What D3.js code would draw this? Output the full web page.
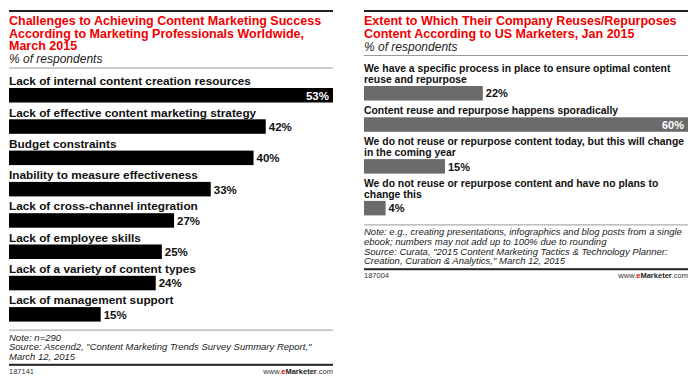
<!DOCTYPE html>
<html>
<head>
<meta charset="utf-8">
<script src="https://cdn.jsdelivr.net/npm/d3@7"></script>
<style>
  html, body { margin: 0; padding: 0; background: #fff; }
  svg { display: block; }
  .title { font-family: "Liberation Sans Narrow", "Arial Narrow", "Liberation Sans", sans-serif; font-weight: bold; font-size: 12.5px; fill: #ee0000; }
  .sub { font-family: "Liberation Sans", Arial, sans-serif; font-style: italic; font-size: 12px; fill: #222; }
  .label { font-family: "Liberation Sans Narrow", "Arial Narrow", "Liberation Sans", sans-serif; font-weight: bold; fill: #111; }
  .val { font-family: "Liberation Sans Narrow", "Arial Narrow", "Liberation Sans", sans-serif; font-weight: bold; }
  .note { font-family: "Liberation Sans", Arial, sans-serif; font-style: italic; font-size: 9.5px; fill: #222; }
  .foot { font-family: "Liberation Sans", Arial, sans-serif; font-size: 7.5px; fill: #333; }
</style>
</head>
<body>
<svg id="chart" width="700" height="383"></svg>
<script>
// left chart data
const leftTitle = [
  "Challenges to Achieving Content Marketing Success",
  "According to Marketing Professionals Worldwide,",
  "March 2015"
];
const leftCategories = [
  ["Lack of internal content creation resources"],
  ["Lack of effective content marketing strategy"],
  ["Budget constraints"],
  ["Inability to measure effectiveness"],
  ["Lack of cross-channel integration"],
  ["Lack of employee skills"],
  ["Lack of a variety of content types"],
  ["Lack of management support"]
];
const leftValues = [53, 42, 40, 33, 27, 25, 24, 15];
const leftNotes = [
  "Note: n=290",
  "Source: Ascend2, \"Content Marketing Trends Survey Summary Report,\"",
  "March 12, 2015"
];
const leftId = "187141";

// right chart data
const rightTitle = [
  "Extent to Which Their Company Reuses/Repurposes",
  "Content According to US Marketers, Jan 2015"
];
const rightCategories = [
  ["We have a specific process in place to ensure optimal content", "reuse and repurpose"],
  ["Content reuse and repurpose happens sporadically"],
  ["We do not reuse or repurpose content today, but this will change", "in the coming year"],
  ["We do not reuse or repurpose content and have no plans to", "change this"]
];
const rightValues = [22, 60, 15, 4];
const rightNotes = [
  "Note: e.g., creating presentations, infographics and blog posts from a single",
  "ebook; numbers may not add up to 100% due to rounding",
  "Source: Curata, \"2015 Content Marketing Tactics & Technology Planner:",
  "Creation, Curation & Analytics,\" March 12, 2015"
];
const rightId = "187004";

const svg = d3.select("#chart");

function drawPanel(opt) {
  const g = svg.append("g");
  const x0 = opt.x0, w = 324;

  // top rule
  g.append("rect").attr("x", x0).attr("y", 10).attr("width", w).attr("height", 2).attr("fill", "#222");

  // title
  opt.title.forEach((t, i) => {
    g.append("text").attr("class", "title")
      .attr("x", x0).attr("y", 25 + i * 12.5).text(t);
  });
  const subY = 25 + opt.title.length * 12.5 + 0.5;
  g.append("text").attr("class", "sub").attr("x", x0).attr("y", subY).text("% of respondents");
  g.append("rect").attr("x", x0).attr("y", subY + 4.5).attr("width", w).attr("height", 1).attr("fill", "#999");

  const x = d3.scaleLinear()
    .domain([0, d3.max(opt.values)])
    .range([x0, x0 + w]);
  const maxV = d3.max(opt.values);

  // rows
  let c = subY + 18;
  let lastBottom = 0;
  opt.categories.forEach((lines, i) => {
    lines.forEach((t, j) => {
      g.append("text").attr("class", "label")
        .attr("font-size", opt.labelSize + "px")
        .attr("x", x0).attr("y", c + j * 10.5).attr("dy", "0.36em").text(t);
    });
    const barTop = c + (lines.length - 1) * 10.5 + 7;
    const v = opt.values[i];
    g.append("rect")
      .attr("x", x(0)).attr("y", barTop)
      .attr("width", x(v) - x(0)).attr("height", 14.5)
      .attr("fill", opt.barColor);

    const inside = v === maxV;
    g.append("text").attr("class", "val")
      .attr("font-size", opt.valSize + "px")
      .attr("x", inside ? x(v) - 4 : x(v) + 3)
      .attr("y", barTop + 7.5).attr("dy", "0.36em")
      .attr("text-anchor", inside ? "end" : "start")
      .attr("fill", inside ? "#fff" : "#111")
      .text(v + "%");
    lastBottom = barTop + 14.5;
    c = barTop + 24.3;
  });

  // notes
  const lineY = lastBottom + opt.noteGap;
  g.append("rect").attr("x", x0).attr("y", lineY).attr("width", w).attr("height", 1).attr("fill", "#999");
  opt.notes.forEach((t, i) => {
    g.append("text").attr("class", "note")
      .attr("x", x0).attr("y", lineY + 11 + i * 9.6).text(t);
  });
  const footY = lineY + 11 + (opt.notes.length - 1) * 9.6 + 4;
  g.append("rect").attr("x", x0).attr("y", footY).attr("width", w).attr("height", 2).attr("fill", "#222");
  g.append("text").attr("class", "foot").attr("x", x0).attr("y", footY + 10).text(opt.id);

  const brand = g.append("text").attr("class", "foot")
    .attr("x", x0 + w).attr("y", footY + 10).attr("text-anchor", "end");
  brand.append("tspan").text("www.");
  brand.append("tspan").attr("fill", "#ee0000").attr("font-weight", "bold").text("e");
  brand.append("tspan").attr("font-weight", "bold").attr("fill", "#222").text("Marketer");
  brand.append("tspan").text(".com");
}

drawPanel({
  x0: 9, title: leftTitle, categories: leftCategories, values: leftValues,
  notes: leftNotes, id: leftId, barColor: "#000", noteGap: 8,
  labelSize: 11.8, valSize: 11.5
});
drawPanel({
  x0: 364, title: rightTitle, categories: rightCategories, values: rightValues,
  notes: rightNotes, id: rightId, barColor: "#6b6b6b", noteGap: 9,
  labelSize: 10.4, valSize: 11
});
</script>
</body>
</html>
